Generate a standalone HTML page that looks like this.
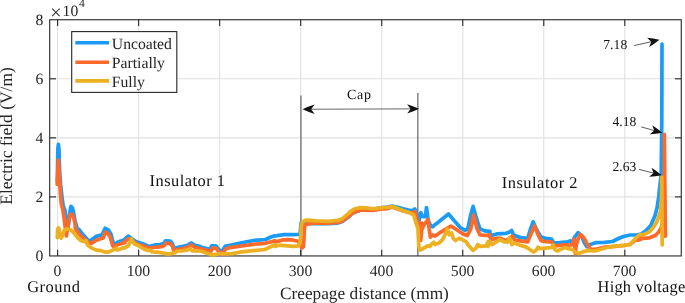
<!DOCTYPE html>
<html lang="en">
<head>
<meta charset="utf-8">
<title>Electric field along creepage distance</title>
<style>
html,body{margin:0;padding:0;background:#fff;}
body{width:685px;height:303px;overflow:hidden;}
svg{display:block;}
text{text-rendering:geometricPrecision;}
.t{font-family:"Liberation Serif",serif;fill:#262626;}
.x{font-family:"Liberation Serif",serif;fill:#111;}
</style>
</head>
<body>
<svg width="685" height="303" viewBox="0 0 685 303">
<rect x="0" y="0" width="685" height="303" fill="#ffffff"/>
<g stroke="#e0e0e0" stroke-width="1.1" fill="none">
<line x1="57.60" y1="19.75" x2="57.60" y2="255.95"/>
<line x1="138.63" y1="19.75" x2="138.63" y2="255.95"/>
<line x1="219.66" y1="19.75" x2="219.66" y2="255.95"/>
<line x1="300.69" y1="19.75" x2="300.69" y2="255.95"/>
<line x1="381.72" y1="19.75" x2="381.72" y2="255.95"/>
<line x1="462.75" y1="19.75" x2="462.75" y2="255.95"/>
<line x1="543.78" y1="19.75" x2="543.78" y2="255.95"/>
<line x1="624.81" y1="19.75" x2="624.81" y2="255.95"/>
<line x1="49.7" y1="196.90" x2="681.25" y2="196.90"/>
<line x1="49.7" y1="137.85" x2="681.25" y2="137.85"/>
<line x1="49.7" y1="78.80" x2="681.25" y2="78.80"/>
</g>
<g stroke="#585858" stroke-width="1.1" fill="none">
<line x1="300.95" y1="95.5" x2="300.95" y2="255.95"/>
<line x1="417.85" y1="93.0" x2="417.85" y2="255.95"/>
</g>
<g stroke="#262626" stroke-width="1.1" fill="none">
<rect x="49.7" y="19.75" width="631.55" height="236.20"/>
<line x1="57.60" y1="255.95" x2="57.60" y2="249.65"/>
<line x1="57.60" y1="19.75" x2="57.60" y2="26.05"/>
<line x1="138.63" y1="255.95" x2="138.63" y2="249.65"/>
<line x1="138.63" y1="19.75" x2="138.63" y2="26.05"/>
<line x1="219.66" y1="255.95" x2="219.66" y2="249.65"/>
<line x1="219.66" y1="19.75" x2="219.66" y2="26.05"/>
<line x1="300.69" y1="255.95" x2="300.69" y2="249.65"/>
<line x1="300.69" y1="19.75" x2="300.69" y2="26.05"/>
<line x1="381.72" y1="255.95" x2="381.72" y2="249.65"/>
<line x1="381.72" y1="19.75" x2="381.72" y2="26.05"/>
<line x1="462.75" y1="255.95" x2="462.75" y2="249.65"/>
<line x1="462.75" y1="19.75" x2="462.75" y2="26.05"/>
<line x1="543.78" y1="255.95" x2="543.78" y2="249.65"/>
<line x1="543.78" y1="19.75" x2="543.78" y2="26.05"/>
<line x1="624.81" y1="255.95" x2="624.81" y2="249.65"/>
<line x1="624.81" y1="19.75" x2="624.81" y2="26.05"/>
<line x1="49.7" y1="196.90" x2="56.00" y2="196.90"/>
<line x1="681.25" y1="196.90" x2="674.95" y2="196.90"/>
<line x1="49.7" y1="137.85" x2="56.00" y2="137.85"/>
<line x1="681.25" y1="137.85" x2="674.95" y2="137.85"/>
<line x1="49.7" y1="78.80" x2="56.00" y2="78.80"/>
<line x1="681.25" y1="78.80" x2="674.95" y2="78.80"/>
</g>
<g fill="none" stroke-width="3.7" stroke-linejoin="round" stroke-linecap="round">
<path stroke="#1a9bf7" d="M57.4,182.0 L57.8,150.0 L58.4,144.3 L59.0,150.0 L59.6,171.0 L60.6,185.0 L62.0,197.0 L63.2,206.0 L64.9,210.2 L66.0,218.4 L67.2,228.9 L67.9,230.0 L68.7,223.0 L69.8,212.5 L70.9,206.4 L72.4,207.8 L73.6,212.5 L75.1,221.3 L77.1,228.3 L78.9,229.4 L83.5,235.3 L88.2,240.3 L90.0,240.9 L92.9,238.8 L96.4,236.4 L102.2,234.7 L103.7,231.2 L105.1,228.3 L108.6,230.2 L111.0,234.1 L112.5,240.5 L113.6,243.4 L115.1,244.4 L117.4,242.3 L120.9,241.1 L125.0,239.9 L124.7,239.4 L127.0,237.0 L128.4,236.1 L131.7,238.8 L136.4,241.7 L143.4,244.0 L149.2,246.6 L153.9,245.2 L159.7,244.5 L163.8,243.6 L165.5,240.8 L170.2,241.1 L172.3,243.4 L173.5,246.9 L174.7,248.5 L177.2,247.5 L183.1,246.4 L187.7,245.2 L190.1,243.4 L191.5,242.9 L194.7,245.2 L200.0,246.4 L199.7,246.8 L206.7,248.5 L210.2,249.6 L211.7,245.8 L216.0,245.8 L218.9,249.6 L222.1,251.4 L225.1,246.4 L230.0,245.2 L241.7,242.9 L253.4,240.5 L265.1,239.7 L270.9,237.0 L275.0,235.8 L277.0,235.6 L284.0,234.7 L293.4,234.7 L299.2,234.4 L300.1,233.5 L300.6,227.7 L301.1,223.0 L301.5,222.8 L303.3,223.1 L307.4,223.6 L316.7,223.4 L328.4,223.7 L337.7,223.1 L342.4,221.6 L347.1,218.1 L350.0,215.8 L349.7,215.1 L354.3,212.2 L360.2,210.2 L366.0,210.2 L373.0,209.5 L380.0,207.8 L387.0,207.0 L392.3,206.1 L397.6,207.4 L403.4,208.9 L410.4,210.5 L413.3,210.2 L414.8,209.0 L416.0,211.4 L416.8,217.2 L417.6,220.1 L419.3,220.1 L419.9,214.3 L420.9,212.8 L421.9,216.3 L424.9,216.7 L425.9,212.5 L426.5,207.5 L427.2,212.5 L428.1,220.1 L430.8,226.3 L432.8,226.8 L433.9,225.6 L440.4,220.5 L448.5,214.0 L454.4,220.9 L460.2,227.5 L464.9,230.4 L467.8,228.9 L470.7,214.9 L473.1,206.4 L475.4,214.9 L478.3,224.2 L480.1,229.1 L481.2,229.4 L484.7,230.9 L490.0,231.4 L489.1,232.1 L491.4,235.6 L496.7,233.9 L506.0,233.3 L509.5,232.1 L511.6,230.4 L513.6,235.0 L520.0,237.4 L527.6,238.5 L530.5,229.2 L533.1,221.8 L536.4,229.2 L540.8,237.0 L545.7,238.4 L551.6,239.1 L553.9,243.1 L559.7,242.6 L565.0,242.0 L567.0,242.2 L570.5,240.8 L572.3,243.1 L574.6,237.2 L578.1,232.7 L581.6,236.1 L584.5,243.1 L586.9,246.6 L590.4,244.4 L596.2,242.6 L604.4,242.3 L612.6,241.5 L618.4,238.5 L624.2,236.2 L630.1,235.0 L635.9,235.0 L640.0,234.4 L641.4,233.9 L646.1,230.4 L649.4,227.1 L651.1,224.8 L652.9,220.4 L655.0,215.7 L657.1,207.5 L658.7,197.0 L659.4,190.0 L661.2,175.0 L661.8,120.0 L662.0,44.1"/>
<path stroke="#ff6929" d="M57.2,184.5 L57.5,175.0 L58.4,160.0 L59.0,168.0 L59.8,185.0 L60.6,196.0 L61.5,205.0 L62.5,207.8 L64.0,217.2 L65.3,227.7 L66.4,235.9 L67.4,228.9 L69.1,218.4 L70.7,214.3 L72.2,214.3 L73.6,217.2 L75.1,224.2 L75.4,228.8 L78.9,233.7 L82.4,237.2 L85.9,240.3 L90.0,243.1 L91.7,243.3 L95.2,240.8 L99.9,239.0 L103.4,237.8 L105.1,232.3 L108.1,233.5 L110.4,237.6 L112.5,245.2 L113.9,246.9 L115.1,246.7 L117.4,244.8 L120.9,243.7 L125.0,242.5 L124.7,241.9 L128.2,238.8 L131.1,239.4 L136.4,243.8 L143.4,246.1 L149.2,248.3 L153.9,247.5 L159.7,246.9 L163.8,246.0 L165.9,243.2 L170.2,243.7 L172.3,246.0 L173.7,250.4 L174.9,250.8 L177.2,249.6 L183.1,248.5 L187.7,247.3 L191.2,245.0 L194.7,247.3 L200.0,248.5 L199.7,248.5 L206.7,250.3 L210.8,251.8 L212.3,248.1 L216.0,248.1 L218.9,251.8 L222.4,253.8 L225.7,249.0 L230.0,247.6 L241.7,246.0 L253.4,244.3 L265.1,243.3 L270.9,241.9 L275.0,240.8 L275.8,241.9 L281.7,240.2 L287.5,239.6 L293.4,240.2 L298.0,241.3 L300.6,244.6 L302.1,247.8 L303.3,246.9 L303.9,240.5 L304.3,230.0 L305.0,225.3 L307.4,223.9 L316.7,222.9 L328.4,223.2 L337.7,222.5 L342.4,221.1 L347.1,217.6 L350.0,215.3 L349.7,215.1 L354.3,212.2 L360.2,210.2 L366.0,210.2 L373.0,210.4 L380.0,209.2 L387.0,208.7 L392.3,207.1 L397.6,209.0 L403.4,211.0 L410.4,212.8 L413.3,212.5 L415.1,211.7 L416.5,217.2 L418.0,223.0 L419.7,224.2 L421.5,223.0 L423.2,224.2 L419.9,227.7 L420.7,240.5 L421.7,230.0 L424.0,224.8 L428.1,219.5 L429.3,230.0 L430.4,237.2 L432.8,234.9 L435.1,236.1 L439.2,233.2 L445.0,229.7 L450.9,226.2 L456.7,229.7 L462.6,233.7 L467.2,235.5 L470.7,229.1 L473.6,215.1 L477.2,229.1 L480.1,234.9 L485.9,235.5 L490.0,234.9 L489.1,235.5 L491.4,239.6 L496.7,238.4 L500.2,238.2 L506.0,240.8 L510.1,237.8 L512.4,236.1 L514.8,240.2 L520.0,240.8 L527.6,241.9 L531.1,233.7 L534.6,225.9 L537.6,233.7 L541.1,240.8 L545.7,241.7 L551.6,241.9 L554.5,246.0 L559.7,245.4 L565.0,244.8 L567.0,245.2 L571.7,244.8 L573.1,242.9 L574.0,239.4 L574.7,246.4 L575.3,253.6 L576.1,246.4 L577.5,240.5 L580.4,234.4 L583.9,237.8 L587.4,244.3 L589.8,248.3 L591.5,249.5 L597.4,248.9 L604.4,247.2 L612.6,246.6 L624.2,245.4 L630.1,244.3 L634.7,240.8 L640.0,237.2 L637.7,240.2 L642.4,238.4 L649.4,237.8 L655.2,235.5 L658.7,232.0 L661.1,227.9 L662.8,221.8 L664.0,213.7 L664.3,180.0 L664.4,134.4 L664.8,180.0 L665.4,236.2"/>
<path stroke="#edb020" d="M57.3,237.6 L57.6,229.5 L58.6,227.8 L59.6,232.0 L61.2,238.2 L62.3,236.2 L63.8,231.2 L65.5,229.3 L67.5,228.9 L70.0,229.7 L72.0,230.9 L74.4,233.6 L77.7,237.8 L81.2,240.8 L84.7,241.7 L85.9,240.5 L87.6,245.2 L91.7,248.1 L96.4,250.1 L101.1,250.7 L105.7,252.2 L108.6,252.0 L112.7,250.1 L115.1,249.3 L116.2,248.1 L117.4,249.9 L120.9,248.7 L125.0,247.3 L124.7,247.8 L128.2,245.8 L129.9,242.9 L131.3,239.1 L132.8,241.7 L134.6,244.0 L138.7,245.8 L143.4,248.7 L148.0,250.4 L150.4,250.1 L152.1,252.0 L157.4,252.2 L162.0,252.8 L166.7,253.9 L170.2,253.9 L174.9,252.8 L177.2,251.0 L183.1,250.8 L187.7,249.9 L190.1,248.7 L192.4,251.0 L195.9,250.7 L200.0,251.0 L202.0,251.6 L207.8,253.4 L212.5,255.1 L218.4,253.8 L225.4,253.8 L232.4,253.6 L241.7,251.8 L253.4,250.7 L265.1,249.5 L269.7,247.2 L275.0,244.8 L274.7,246.4 L279.3,245.2 L287.5,245.8 L293.4,246.4 L298.6,245.8 L300.1,242.9 L300.8,234.7 L301.3,225.3 L302.1,222.8 L305.0,220.4 L308.5,220.1 L316.7,220.8 L328.4,221.3 L337.7,220.4 L342.4,218.7 L347.1,214.6 L350.0,212.3 L349.7,211.9 L354.3,209.0 L360.2,207.6 L366.0,207.8 L373.0,208.8 L380.0,207.8 L387.0,207.3 L392.3,206.6 L396.4,208.1 L403.4,210.8 L410.4,213.1 L413.9,215.4 L415.7,221.9 L418.0,228.9 L418.2,234.7 L418.8,246.4 L419.9,250.1 L421.7,249.3 L427.5,245.8 L429.9,246.4 L431.6,244.0 L433.9,242.3 L435.1,244.6 L439.2,242.9 L442.7,239.4 L445.0,234.7 L447.4,229.1 L449.1,234.7 L451.5,232.9 L453.2,238.2 L455.5,240.5 L459.1,238.2 L462.6,239.9 L466.1,241.7 L468.4,245.2 L473.1,250.4 L476.0,248.1 L477.7,244.6 L480.1,246.4 L485.9,245.8 L488.2,241.7 L490.0,241.7 L487.9,246.4 L489.1,242.3 L492.0,244.6 L496.7,241.7 L500.2,239.4 L503.7,241.7 L507.2,242.3 L509.5,237.8 L511.9,244.6 L514.2,242.9 L520.0,245.2 L525.9,246.9 L529.4,249.3 L533.5,252.0 L536.4,249.9 L538.1,247.2 L539.9,248.7 L545.7,248.1 L551.6,247.5 L553.0,244.8 L555.1,249.9 L557.4,251.0 L562.1,248.7 L565.0,247.5 L569.3,248.9 L572.8,249.6 L575.2,252.2 L578.7,253.6 L583.4,251.6 L589.2,250.4 L595.0,251.0 L600.9,249.3 L606.7,247.5 L612.6,246.4 L624.2,245.4 L630.1,244.6 L634.7,239.4 L638.2,235.8 L640.0,234.7 L643.5,234.7 L649.4,231.8 L654.1,226.5 L657.0,220.7 L656.4,222.7 L658.7,216.9 L660.5,211.0 L661.4,201.7 L661.8,177.2 L662.0,210.0 L662.2,245.0"/>
</g>
<g class="t" font-size="15.7" text-anchor="middle">
<text x="57.40" y="276.3">0</text>
<text x="138.43" y="276.3">100</text>
<text x="219.46" y="276.3">200</text>
<text x="300.49" y="276.3">300</text>
<text x="381.52" y="276.3">400</text>
<text x="462.55" y="276.3">500</text>
<text x="543.58" y="276.3">600</text>
<text x="624.61" y="276.3">700</text>
</g>
<g class="t" font-size="15.7" text-anchor="end">
<text x="43.4" y="261.05">0</text>
<text x="43.4" y="202.00">2</text>
<text x="43.4" y="142.95">4</text>
<text x="43.4" y="83.90">6</text>
<text x="43.4" y="24.85">8</text>
</g>
<text class="t" font-size="20" x="50.2" y="19.1">×</text>
<text class="t" font-size="15.7" x="62.6" y="15.8">10<tspan font-size="11.6" dx="0.6" dy="-8.5">4</tspan></text>
<text class="t" font-size="17.3" text-anchor="middle" x="364.4" y="298.6">Creepage distance (mm)</text>
<text class="t" font-size="17.45" text-anchor="middle" transform="translate(11.9,136) rotate(-90)">Electric field (V/m)</text>
<rect x="71.7" y="31.6" width="105.1" height="60.8" fill="#ffffff" stroke="#262626" stroke-width="1.1"/>
<g fill="none" stroke-width="3.6">
<line stroke="#1a9bf7" x1="75.3" y1="42.8" x2="109" y2="42.8"/>
<line stroke="#ff6929" x1="75.3" y1="62.2" x2="109" y2="62.2"/>
<line stroke="#edb020" x1="75.3" y1="80.9" x2="109" y2="80.9"/>
</g>
<g class="t" font-size="15.7">
<text x="111.8" y="48.5">Uncoated</text>
<text x="111.8" y="67.8">Partially</text>
<text x="111.8" y="86.9">Fully</text>
</g>
<g class="x">
<text font-size="16.4" x="149.6" y="186.1" textLength="75.4" lengthAdjust="spacing">Insulator 1</text>
<text font-size="16.4" x="501.8" y="187.7" textLength="75.6" lengthAdjust="spacing">Insulator 2</text>
<text font-size="16.4" x="27.2" y="292.3" textLength="52.8" lengthAdjust="spacing">Ground</text>
<text font-size="16.4" x="597.6" y="292.3" textLength="87.6" lengthAdjust="spacing">High voltage</text>
<text font-size="14" x="347.0" y="98.5" textLength="24" lengthAdjust="spacing">Cap</text>
<text font-size="13.6" x="603.2" y="48.7" textLength="24" lengthAdjust="spacing">7.18</text>
<text font-size="13.6" x="612.4" y="126.4" textLength="24" lengthAdjust="spacing">4.18</text>
<text font-size="13.6" x="612.4" y="170.9" textLength="24" lengthAdjust="spacing">2.63</text>
</g>
<g>
<line x1="360.00" y1="109.05" x2="310.60" y2="109.22" stroke="#333" stroke-width="0.75"/>
<path fill="#111" d="M302.60,109.25 Q308.61,112.14 314.62,113.91 L311.10,109.22 L314.58,104.51 Q308.59,106.32 302.60,109.25 Z"/>
<line x1="360.00" y1="109.05" x2="411.10" y2="108.88" stroke="#333" stroke-width="0.75"/>
<path fill="#111" d="M419.10,108.85 Q413.09,105.96 407.08,104.19 L410.60,108.88 L407.12,113.59 Q413.11,111.78 419.10,108.85 Z"/>
<line x1="634.20" y1="45.60" x2="651.80" y2="41.55" stroke="#333" stroke-width="0.8"/>
<path fill="#111" d="M659.40,39.80 Q653.09,38.26 647.04,37.82 L651.31,41.66 L649.15,46.98 Q654.40,43.94 659.40,39.80 Z"/>
<line x1="641.20" y1="126.90" x2="654.69" y2="130.69" stroke="#333" stroke-width="0.8"/>
<path fill="#111" d="M662.20,132.80 Q657.40,128.43 652.30,125.14 L654.21,130.56 L649.76,134.19 Q655.83,134.04 662.20,132.80 Z"/>
<line x1="638.90" y1="169.30" x2="654.05" y2="173.24" stroke="#333" stroke-width="0.8"/>
<path fill="#111" d="M661.60,175.20 Q656.72,170.92 651.56,167.73 L653.57,173.11 L649.19,176.83 Q655.25,176.56 661.60,175.20 Z"/>
</g>
</svg>
</body>
</html>
